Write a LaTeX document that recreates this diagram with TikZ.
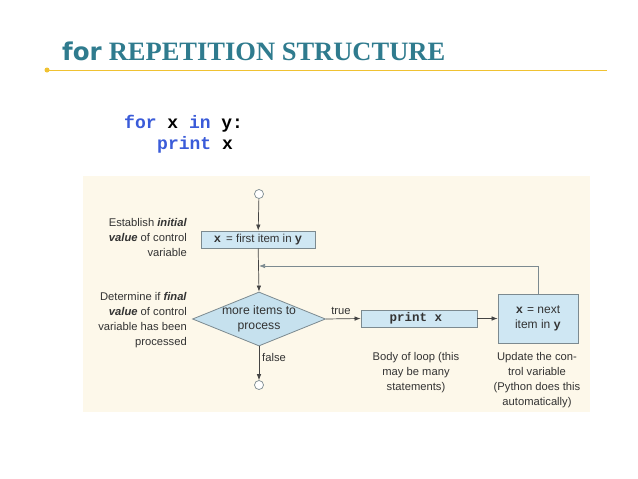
\documentclass[tikz,border=0pt]{standalone}
\usepackage{fontspec}
\setmainfont{Liberation Sans}
\newfontfamily\titleserif{Liberation Serif}
\newfontfamily\titlesans{DejaVu Sans}
\newfontfamily\codefont{Liberation Mono}
\usetikzlibrary{shapes.geometric,arrows.meta}
\definecolor{teal1}{HTML}{2F7B8E}
\definecolor{gold1}{HTML}{F0C232}
\definecolor{cream}{HTML}{FDF8EA}
\definecolor{boxblue}{HTML}{CFE7F3}
\definecolor{diablue}{HTML}{C6E1EE}
\definecolor{edge}{HTML}{7C8A90}
\definecolor{linec}{HTML}{444444}
\definecolor{kw}{HTML}{3A5BD9}
\definecolor{txt}{HTML}{333333}
\tikzset{
  boxnode/.style={draw=edge, fill=boxblue, line width=0.8pt, inner sep=0pt, align=center, text=txt, font=\fontsize{11.5}{14}\selectfont},
  endcirc/.style={circle, draw=edge, fill=white, line width=0.7pt, minimum size=9pt, inner sep=0pt},
  flow/.style={draw=linec, line width=0.7pt, -{Latex[length=6pt,width=4.5pt]}},
  note/.style={font=\fontsize{11.2}{15}\selectfont, text=txt, inner sep=0pt},
}
\newcommand{\cx}[1]{{\codefont\bfseries\fontsize{12}{14}\selectfont #1}}
\begin{document}
\begin{tikzpicture}[x=1pt,y=-1pt]
\useasboundingbox (0,0) rectangle (638,479);
\fill[white] (0,0) rectangle (638,479);
% title
\node[anchor=base west, inner sep=0pt, text=teal1] (title) at (62,60)
  {{\titlesans\bfseries\fontsize{24.5}{26}\selectfont for}\hspace{7pt}{\titleserif\bfseries\fontsize{26.5}{28}\selectfont REPETITION STRUCTURE}};
\coordinate (ls) at (47,70);
\coordinate (le) at (607,70);
\draw[gold1, line width=0.8pt] (ls) -- (le);
\fill[gold1] (ls) circle (2.5);
% code
\node[anchor=base west, inner sep=0pt, font=\codefont\bfseries\fontsize{18}{21}\selectfont] (code1) at (124,128)
  {\textcolor{kw}{for} x \textcolor{kw}{in} y:};
\node[anchor=base west, inner sep=0pt, font=\codefont\bfseries\fontsize{18}{21}\selectfont] (code2) at (157,149)
  {\textcolor{kw}{print} x};
% panel
\fill[cream] (83,176) rectangle (590,412);
% flowchart
\node[endcirc] (c1) at (259,194) {};
\node[boxnode, minimum width=114pt, minimum height=17pt] (b1) at (258,239.5)
  {\cx{x}\hspace{5pt}= first item in \cx{y}};
\node[diamond, draw=edge, fill=diablue, line width=0.8pt, inner xsep=-8pt, inner ysep=-3pt, minimum width=133pt, minimum height=54pt, aspect=2.46, align=center, text=txt, font=\fontsize{12.2}{15.5}\selectfont] (d) at (259,319)
  {more items to\\process};
\node[endcirc] (c2) at (259,385) {};
\node[boxnode, minimum width=116pt, minimum height=17pt] (b2) at (419,318.5)
  {\hspace{-6pt}\codefont\bfseries\fontsize{12.5}{14}\selectfont print x};
\node[boxnode, minimum width=80pt, minimum height=49pt, font=\fontsize{12}{15}\selectfont] (b3) at (538,318.5)
  {\cx{x}\hspace{4pt}= next\\item in \cx{y}};
\coordinate (j) at (259,266);
\path[flow] (c1) -- (b1);
\path[flow] (b1) -- (d.north);
\path[flow] (d.south) -- (c2);
\path[flow] (d.east) -- (b2.west);
\path[flow] (b2.east) -- (b3.west);
\path[flow, draw=edge] (b3.north) |- (j);
\node[note, anchor=south] (tl) at (341,315) {true};
\node[note, anchor=west] (fl) at (262,357) {false};
% notes
\node[note, anchor=east, align=right] (n1) at (187,237)
  {Establish \textbf{\itshape initial}\\\textbf{\itshape value} of control\\variable};
\node[note, anchor=east, align=right] (n2) at (187,320.5)
  {Determine if \textbf{\itshape final}\\\textbf{\itshape value} of control\\variable has been\\processed};
\node[note, align=center] (n3) at (416,373)
  {Body of loop (this\\may be many\\statements)};
\node[note, align=center] (n4) at (537,380.5)
  {Update the con-\\trol variable\\(Python does this\\automatically)};
\end{tikzpicture}
\end{document}
